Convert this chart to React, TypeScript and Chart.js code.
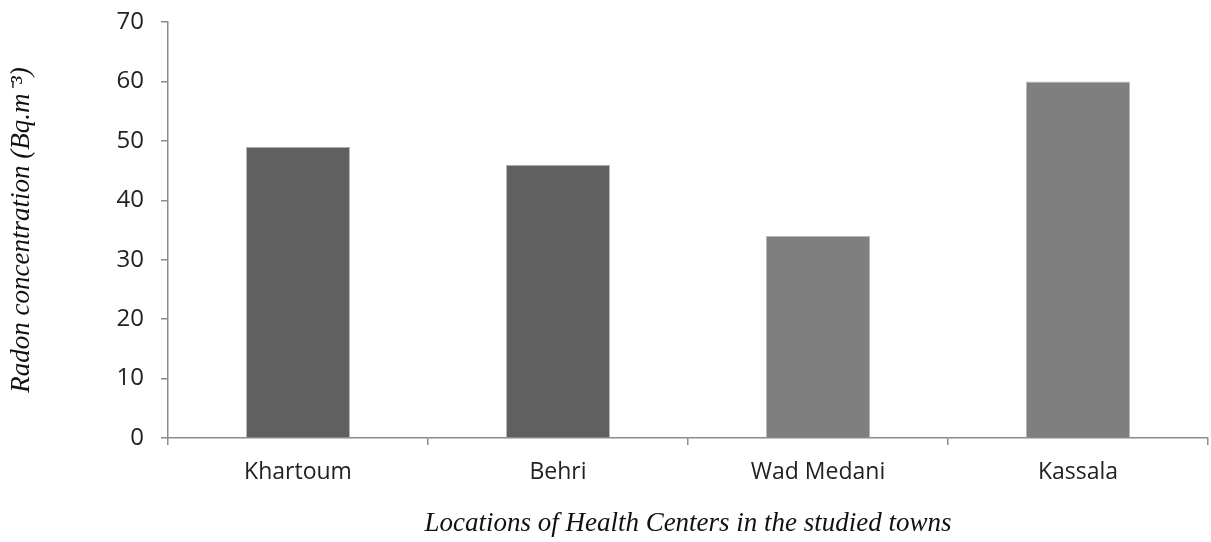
import React, { useEffect, useRef } from "react";
import { Chart, registerables } from "chart.js";

Chart.register(...registerables);

const categories = ["Khartoum", "Behri", "Wad Medani", "Kassala"];
const radonValues = [49, 46, 34, 60];
const barColors = ["#606060", "#606060", "#7f7f7f", "#7f7f7f"];
const yTicks = [0, 10, 20, 30, 40, 50, 60, 70];

export default function App() {
  const canvasRef = useRef<HTMLCanvasElement | null>(null);

  useEffect(() => {
    if (!canvasRef.current) return;
    const chart = new Chart(canvasRef.current, {
      type: "bar",
      data: {
        labels: categories,
        datasets: [
          {
            data: radonValues,
            backgroundColor: barColors,
            borderColor: "#b8b8b8",
            borderWidth: 1,
            categoryPercentage: 1,
            barPercentage: 0.4,
          },
        ],
      },
      options: {
        responsive: false,
        animation: false,
        layout: { padding: { top: 22, right: 3, left: 0, bottom: 0 } },
        plugins: { legend: { display: false }, tooltip: { enabled: false } },
        scales: {
          x: {
            offset: true,
            border: { display: true, color: "#8c8c8c", width: 1.5 },
            grid: {
              display: true,
              offset: true,
              drawOnChartArea: false,
              drawTicks: true,
              tickLength: 7,
              color: "#8c8c8c",
              lineWidth: 1.5,
            },
            ticks: {
              color: "#222",
              padding: 14,
              font: { family: "'Open Sans'", size: 23 },
            },
            title: {
              display: true,
              text: "Locations of Health Centers in the studied towns",
              color: "#111",
              font: { family: "'Liberation Serif'", size: 27, style: "italic" },
              padding: { top: 0, bottom: 2 },
            },
            afterFit: (scale: any) => {
              scale.height = 104;
              scale.paddingLeft = 0;
              scale.paddingRight = 0;
            },
          },
          y: {
            min: 0,
            max: 70,
            afterBuildTicks: (scale: any) => {
              scale.ticks = yTicks.map((v) => ({ value: v }));
            },
            border: { display: true, color: "#8c8c8c", width: 1.5 },
            grid: {
              display: true,
              drawOnChartArea: false,
              drawTicks: true,
              tickLength: 7,
              color: "#8c8c8c",
              lineWidth: 1.5,
            },
            ticks: {
              color: "#222",
              padding: 17,
              font: { family: "'Open Sans'", size: 24 },
            },
            title: {
              display: true,
              text: "Radon concentration (Bq.m\u207B\u00B3)",
              color: "#111",
              font: { family: "'Liberation Serif'", size: 27, style: "italic" },
              padding: { top: 6, bottom: 0 },
            },
            afterFit: (scale: any) => {
              scale.width = 168;
              scale.paddingTop = 0;
              scale.paddingBottom = 0;
            },
          },
        },
      },
    });
    return () => chart.destroy();
  }, []);

  return (
    <div style={{ position: "fixed", left: 0, top: 0, width: 1211, height: 542, background: "#fff" }}>
      <canvas ref={canvasRef} width={1211} height={542} />
    </div>
  );
}
